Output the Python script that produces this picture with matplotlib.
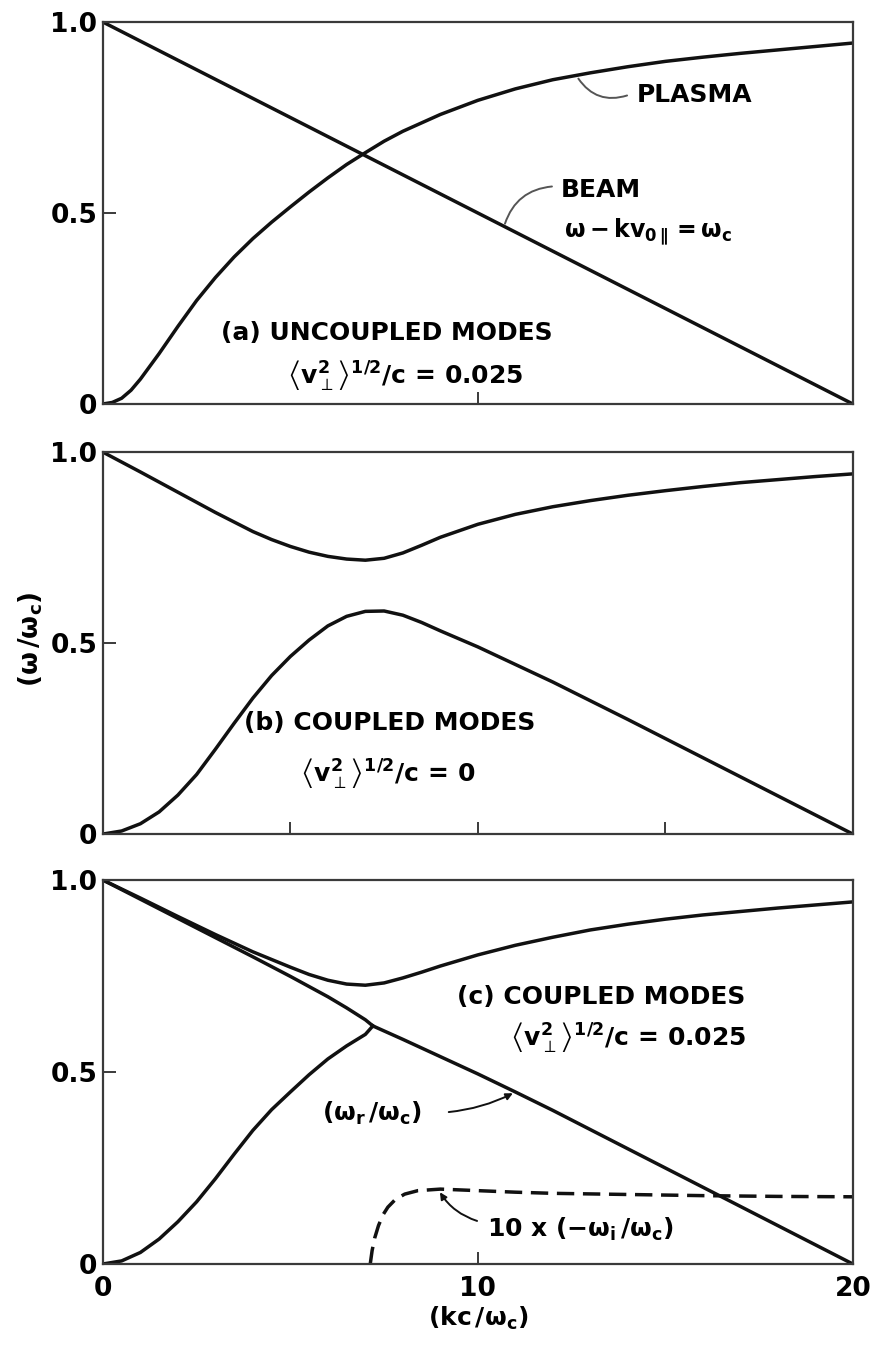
import numpy as np
import matplotlib.pyplot as plt

plt.rcParams['font.family'] = 'DejaVu Sans'
plt.rcParams['mathtext.fontset'] = 'dejavusans'
plt.rcParams['mathtext.default'] = 'bf'

# (a) uncoupled modes: plasma branch and beam line
plasma_x = [0, 0.25, 0.5, 0.75, 1.0, 1.5, 2.0, 2.5, 3.0, 3.5, 4.0, 4.5, 5.0, 5.5, 6.0,
            6.5, 7.0, 7.5, 8.0, 9.0, 10.0, 11.0, 12.0, 13.0, 14.0, 15.0, 16.0, 17.0,
            18.0, 19.0, 20.0]
plasma_y = [0, 0.004, 0.015, 0.036, 0.065, 0.132, 0.203, 0.271, 0.331, 0.385, 0.433,
            0.476, 0.516, 0.555, 0.592, 0.627, 0.658, 0.688, 0.714, 0.758, 0.795,
            0.825, 0.849, 0.867, 0.883, 0.897, 0.908, 0.918, 0.927, 0.936, 0.945]
beam_x = [0, 20]
beam_y = [1.0, 0.0]

# (b) coupled modes, cold beam
b_upper_x = [0, 1, 2, 3, 4, 4.5, 5, 5.5, 6, 6.5, 7, 7.5, 8, 8.5, 9, 10, 11, 12,
             13, 14, 15, 16, 17, 18, 19, 20]
b_upper_y = [1.0, 0.948, 0.895, 0.842, 0.792, 0.771, 0.753, 0.738, 0.727, 0.72,
             0.717, 0.722, 0.736, 0.756, 0.777, 0.811, 0.837, 0.857, 0.873, 0.887,
             0.899, 0.91, 0.92, 0.928, 0.936, 0.943]
b_lower_x = [0, 0.5, 1, 1.5, 2, 2.5, 3, 3.5, 4, 4.5, 5, 5.5, 6, 6.5, 7, 7.5, 8,
             8.5, 9, 10, 11, 12, 14, 16, 18, 20]
b_lower_y = [0, 0.008, 0.027, 0.058, 0.102, 0.156, 0.222, 0.29, 0.356, 0.415, 0.465,
             0.508, 0.545, 0.57, 0.583, 0.584, 0.573, 0.554, 0.532, 0.49, 0.444,
             0.398, 0.3, 0.2, 0.1, 0.0]

# (c) coupled modes, warm beam
c_upper_x = [0, 1, 2, 3, 4, 5, 5.5, 6, 6.5, 7, 7.5, 8, 8.5, 9, 10, 11, 12, 13, 14,
             15, 16, 17, 18, 19, 20]
c_upper_y = [1.0, 0.953, 0.905, 0.858, 0.813, 0.773, 0.754, 0.739, 0.729, 0.726,
             0.732, 0.745, 0.76, 0.776, 0.805, 0.83, 0.851, 0.87, 0.885, 0.898,
             0.909, 0.918, 0.927, 0.935, 0.943]
c_beam_x = [0, 1, 2, 3, 4, 5, 6, 6.5, 7, 7.2]
c_beam_y = [1.0, 0.95, 0.9, 0.85, 0.8, 0.749, 0.696, 0.667, 0.636, 0.62]
c_lower_x = [0, 0.5, 1, 1.5, 2, 2.5, 3, 3.5, 4, 4.5, 5, 5.5, 6, 6.5, 7, 7.2]
c_lower_y = [0, 0.008, 0.03, 0.065, 0.11, 0.162, 0.222, 0.286, 0.348, 0.402, 0.448,
             0.493, 0.534, 0.568, 0.598, 0.62]
c_merged_x = [7.2, 8, 9, 10, 11, 12, 14, 16, 18, 20]
c_merged_y = [0.62, 0.585, 0.54, 0.495, 0.448, 0.4, 0.3, 0.2, 0.1, 0.0]
growth_x = [7.13, 7.18, 7.25, 7.35, 7.47, 7.6, 7.8, 8.05, 8.4, 9.0, 10.0, 11.0, 12.0,
            14.0, 16.0, 18.0, 20.0]
growth_y = [0, 0.035, 0.068, 0.1, 0.128, 0.148, 0.168, 0.182, 0.191, 0.195, 0.191,
            0.187, 0.184, 0.181, 0.178, 0.176, 0.175]

ink = '#111111'
frame = '#3a3a3a'
fs = 18
fw = 'bold'

# thermal spread label, <v_perp^2>^(1/2)/c
vperp = r'$\left\langle v_{\mathrm{\perp}}^{2}\right\rangle^{1/2}$/c'

fig = plt.figure(figsize=(8.72, 13.52), dpi=100)
left, width = 0.118, 0.860
rects = [(left, 0.7012, width, 0.2825),
         (left, 0.3831, width, 0.2825),
         (left, 0.0651, width, 0.2840)]
axes = [fig.add_axes(r) for r in rects]

for i, ax in enumerate(axes):
    ax.set_xlim(0, 20)
    ax.set_ylim(0, 1)
    for s in ax.spines.values():
        s.set_color(frame)
        s.set_linewidth(1.6)
    ax.set_yticks([0, 0.5, 1.0])
    ax.set_yticklabels(['0', '0.5', '1.0'], fontweight=fw)
    ax.tick_params(direction='in', length=9, width=1.4, color=frame,
                   labelsize=fs + 1, pad=4)
    if i == 1:
        ax.set_xticks([5, 10, 15])
    else:
        ax.set_xticks([10])
    if i < 2:
        ax.set_xticklabels([])

lw = 2.5
ax_a, ax_b, ax_c = axes

# panel (a)
ax_a.plot(plasma_x, plasma_y, color=ink, lw=lw)
ax_a.plot(beam_x, beam_y, color=ink, lw=lw)
ax_a.text(3.15, 0.186, '(a) UNCOUPLED MODES', fontsize=fs, fontweight=fw,
          va='center')
ax_a.text(4.9, 0.075, vperp + ' = 0.025', fontsize=fs, fontweight=fw, va='center')
ax_a.text(14.25, 0.81, 'PLASMA', fontsize=fs, fontweight=fw, va='center')
ax_a.annotate('', xy=(12.64, 0.858), xytext=(14.05, 0.81),
              arrowprops=dict(arrowstyle='-', color='#555555', lw=1.4,
                              connectionstyle='arc3,rad=-0.4'))
ax_a.text(12.2, 0.56, 'BEAM', fontsize=fs, fontweight=fw, va='center')
ax_a.text(12.3, 0.45, r'$\omega - kv_{0\parallel} = \omega_c$', fontsize=fs - 1,
          va='center')
ax_a.annotate('', xy=(10.7, 0.465), xytext=(12.05, 0.57),
              arrowprops=dict(arrowstyle='-', color='#555555', lw=1.4,
                              connectionstyle='arc3,rad=0.35'))

# panel (b)
ax_b.plot(b_upper_x, b_upper_y, color=ink, lw=lw)
ax_b.plot(b_lower_x, b_lower_y, color=ink, lw=lw)
ax_b.text(3.75, 0.29, '(b) COUPLED MODES', fontsize=fs, fontweight=fw, va='center')
ax_b.text(5.25, 0.16, vperp + ' = 0', fontsize=fs, fontweight=fw, va='center')

# panel (c)
ax_c.plot(c_upper_x, c_upper_y, color=ink, lw=lw)
ax_c.plot(c_beam_x, c_beam_y, color=ink, lw=lw)
ax_c.plot(c_lower_x, c_lower_y, color=ink, lw=lw)
ax_c.plot(c_merged_x, c_merged_y, color=ink, lw=lw)
ax_c.plot(growth_x, growth_y, color=ink, lw=lw, ls=(0, (5, 2.5)))
ax_c.text(9.45, 0.695, '(c) COUPLED MODES', fontsize=fs, fontweight=fw, va='center')
ax_c.text(10.85, 0.59, vperp + ' = 0.025', fontsize=fs, fontweight=fw, va='center')
ax_c.text(5.85, 0.393, r'$(\omega_r\,/\omega_c)$', fontsize=fs, va='center')
ax_c.annotate('', xy=(11.0, 0.448), xytext=(9.15, 0.395),
              arrowprops=dict(arrowstyle='-|>', color=ink, lw=1.4,
                              mutation_scale=10,
                              connectionstyle='arc3,rad=0.1'))
ax_c.text(10.25, 0.09, r'10 x $(-\omega_i\,/\omega_c)$', fontsize=fs, fontweight=fw,
          va='center')
ax_c.annotate('', xy=(8.95, 0.193), xytext=(10.05, 0.11),
              arrowprops=dict(arrowstyle='-|>', color=ink, lw=1.4,
                              mutation_scale=10,
                              connectionstyle='arc3,rad=-0.2'))
ax_c.set_xticks([0, 10, 20])
ax_c.set_xticklabels(['0', '10', '20'], fontweight=fw)
ax_c.tick_params(axis='x', pad=9)
ax_c.set_xlabel(r'$(kc\,/\omega_c)$', fontsize=fs, labelpad=2)

fig.text(0.035, 0.527, r'$(\omega\,/\omega_c)$', fontsize=fs + 1, rotation=90,
         ha='center', va='center')

fig.savefig('out.png', dpi=100)
